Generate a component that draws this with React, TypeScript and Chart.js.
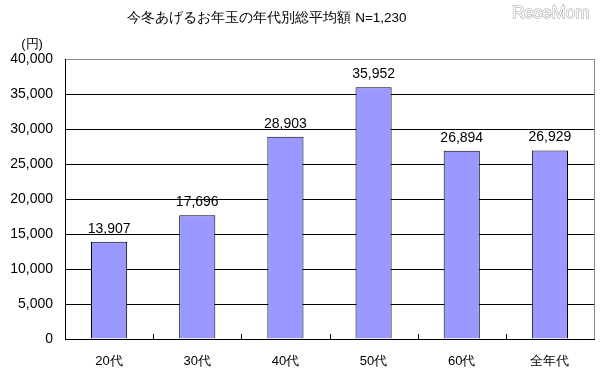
import React, { useEffect, useRef } from "react";
import { Chart, registerables } from "chart.js";

Chart.register(...registerables);

const categories = ["20代", "30代", "40代", "50代", "60代", "全年代"];
const values = [13907, 17696, 28903, 35952, 26894, 26929];
const yTicks = [0, 5000, 10000, 15000, 20000, 25000, 30000, 35000, 40000];
const titleText = "今冬あげるお年玉の年代別総平均額 N=1,230";
const unitText = "(円)";
const watermark = "ReseMom";

const FONT = "'Liberation Sans', Arial, sans-serif";

const fmt = (v: number) => v.toLocaleString("en-US");

export default function App() {
  const ref = useRef<HTMLCanvasElement | null>(null);

  useEffect(() => {
    if (!ref.current) return;
    const decor = {
      id: "decor",
      afterDraw(chart: any) {
        const ctx = chart.ctx;
        const area = chart.chartArea;
        const xs = chart.scales.x;
        ctx.save();
        // right border
        ctx.strokeStyle = "#888";
        ctx.lineWidth = 1;
        ctx.beginPath();
        ctx.moveTo(Math.round(area.right) + 0.5, area.top);
        ctx.lineTo(Math.round(area.right) + 0.5, area.bottom);
        ctx.stroke();
        // category boundary ticks (inside)
        ctx.strokeStyle = "#000";
        for (let i = 0; i < categories.length - 1; i++) {
          const x = Math.round((xs.getPixelForValue(i) + xs.getPixelForValue(i + 1)) / 2) + 0.5;
          ctx.beginPath();
          ctx.moveTo(x, area.bottom);
          ctx.lineTo(x, area.bottom - 5);
          ctx.stroke();
        }
        // data labels
        const meta = chart.getDatasetMeta(0);
        ctx.fillStyle = "#000";
        ctx.font = `14px ${FONT}`;
        ctx.textAlign = "center";
        ctx.textBaseline = "bottom";
        meta.data.forEach((el: any, i: number) => {
          ctx.fillText(fmt(values[i]), el.x, el.y - 6);
        });
        // title
        ctx.font = `13.5px ${FONT}`;
        ctx.textBaseline = "middle";
        ctx.fillText(titleText, 267, 18);
        // unit
        ctx.font = `13px ${FONT}`;
        ctx.fillText(unitText, 32, 44);
        // watermark
        ctx.font = `17px ${FONT}`;
        ctx.textAlign = "left";
        ctx.fillStyle = "#ffffff";
        ctx.strokeStyle = "#9a9a9a";
        ctx.lineWidth = 1;
        ctx.strokeText(watermark, 512, 13);
        ctx.fillText(watermark, 512, 13);
        ctx.restore();
      },
    };

    const chart = new Chart(ref.current, {
      type: "bar",
      data: {
        labels: categories,
        datasets: [
          {
            data: values,
            backgroundColor: "#9999FF",
            borderColor: "#000000",
            borderWidth: 1,
            categoryPercentage: 1,
            barPercentage: 0.41,
          },
        ],
      },
      options: {
        responsive: false,
        animation: false,
        devicePixelRatio: 1,
        layout: { padding: { top: 59, right: 7, left: 0, bottom: 0 } },
        plugins: {
          legend: { display: false },
          tooltip: { enabled: false },
          title: { display: false },
        },
        scales: {
          x: {
            grid: { display: false, drawTicks: false },
            border: { color: "#000", width: 1 },
            ticks: {
              color: "#000",
              font: { family: FONT, size: 13 },
              padding: 15,
            },
            afterFit: (s: any) => {
              s.height = 39;
            },
          },
          y: {
            min: 0,
            max: 40000,
            afterBuildTicks: (s: any) => {
              s.ticks = yTicks.map((v) => ({ value: v }));
            },
            grid: {
              color: (c: any) => (c.tick && c.tick.value === 40000 ? "#888" : "#000"),
              drawTicks: false,
              lineWidth: 1,
            },
            border: { color: "#000", width: 1 },
            ticks: {
              color: "#000",
              font: { family: FONT, size: 14 },
              padding: 12,
              callback: (v: any) => fmt(Number(v)),
            },
            afterFit: (s: any) => {
              s.width = 65;
            },
          },
        },
      },
      plugins: [decor],
    });
    return () => chart.destroy();
  }, []);

  return (
    <div style={{ position: "absolute", left: 0, top: 0, width: 601, height: 378, background: "#fff" }}>
      <canvas ref={ref} width={601} height={378} style={{ width: 601, height: 378 }} />
    </div>
  );
}
